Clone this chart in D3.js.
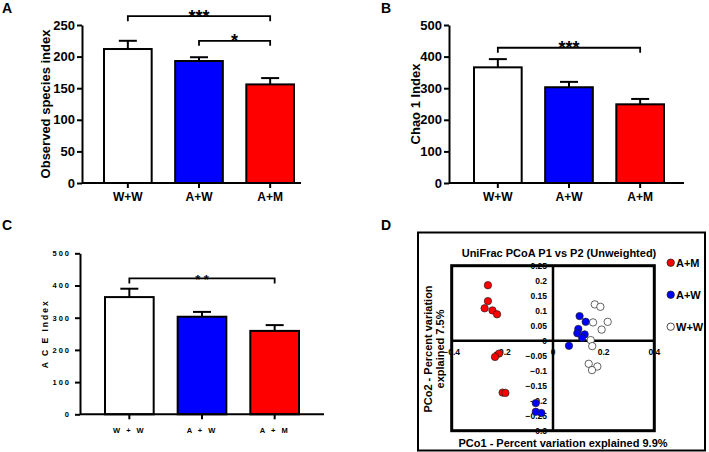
<!DOCTYPE html>
<html>
<head>
<meta charset="utf-8">
<script src="https://cdn.jsdelivr.net/npm/d3@7/dist/d3.min.js"></script>
<style>
  html, body { margin: 0; padding: 0; background: #fff; }
  svg { display: block; font-family: Arial, "Liberation Sans", sans-serif; }
</style>
</head>
<body>
<svg id="chart" width="709" height="452"></svg>
<script>
// ---------------- DATA ----------------
const categories = ["W+W", "A+W", "A+M"];
const categoriesSpaced = ["W + W", "A + W", "A + M"];
const barColors = ["#ffffff", "#0000ff", "#ff0000"];

const observedMean = [212, 193, 156];
const observedErr  = [13, 6, 10];
const observedTicks = [0, 50, 100, 150, 200, 250];

const chaoMean = [366, 303, 249];
const chaoErr  = [26, 17, 17];
const chaoTicks = [0, 100, 200, 300, 400, 500];

const aceMean = [364, 303, 259];
const aceErr  = [26, 15, 18];
const aceTicks = [0, 100, 200, 300, 400, 500];

// significance brackets: [fromIndex, toIndex, value level, label]
const sigA = [[0, 2, 264, "***"], [1, 2, 225, "*"]];
const sigB = [[0, 2, 428, "***"]];
const sigC = [[0, 2, 422, "* *"]];

// PCoA points
const amX = [-0.257, -0.257, -0.270, -0.239, -0.221, -0.213, -0.229, -0.199, -0.188];
const amY = [0.185, 0.132, 0.108, 0.101, 0.088, -0.043, -0.054, -0.173, -0.174];
const awX = [-0.068, -0.068, -0.046, 0.105, 0.129, 0.100, 0.096, 0.125, 0.115, 0.063];
const awY = [-0.208, -0.237, -0.241, 0.082, 0.063, 0.039, 0.025, 0.021, 0.010, -0.017];
const wwX = [0.165, 0.187, 0.158, 0.216, 0.192, 0.149, 0.155, 0.141, 0.175, 0.154];
const wwY = [0.121, 0.113, 0.061, 0.063, 0.037, 0.002, -0.018, -0.077, -0.086, -0.098];
const pcoaXTicks = [-0.4, -0.2, 0, 0.2, 0.4];
const pcoaYTicks = [0.25, 0.2, 0.15, 0.1, 0.05, 0, -0.05, -0.1, -0.15, -0.2, -0.25, -0.3];
const legendGroups = ["A+M", "A+W", "W+W"];
const legendColors = ["#ff0000", "#0000ff", "#ffffff"];

// ---------------- DRAW ----------------
const svg = d3.select("#chart");

function barPanel(o) {
  const g = svg.append("g");
  const y = d3.scaleLinear().domain([0, o.yMax]).range([o.yBottom, o.yTop]);
  const x = d3.scaleBand().domain(o.cats).range(o.bandRange).paddingInner(0.33).paddingOuter(0);

  g.selectAll("rect.bar").data(o.means).join("rect")
    .attr("x", (d, i) => x(o.cats[i]))
    .attr("y", d => y(d))
    .attr("width", x.bandwidth())
    .attr("height", d => y(0) - y(d))
    .attr("fill", (d, i) => barColors[i])
    .attr("stroke", "#000").attr("stroke-width", 2);

  const capW = 18;
  o.means.forEach((m, i) => {
    const cx = x(o.cats[i]) + x.bandwidth() / 2;
    g.append("line").attr("x1", cx).attr("x2", cx)
      .attr("y1", y(m)).attr("y2", y(m + o.errs[i]))
      .attr("stroke", "#000").attr("stroke-width", 2);
    g.append("line").attr("x1", cx - capW / 2).attr("x2", cx + capW / 2)
      .attr("y1", y(m + o.errs[i])).attr("y2", y(m + o.errs[i]))
      .attr("stroke", "#000").attr("stroke-width", 2);
  });

  const ya = g.append("g").attr("transform", `translate(${o.axisX},0)`)
    .call(d3.axisLeft(y).tickValues(o.ticks).tickSize(5).tickSizeOuter(0).tickPadding(o.yTickPad));
  ya.select(".domain").attr("stroke-width", 2);
  ya.selectAll(".tick line").attr("stroke-width", 2);
  ya.selectAll(".tick text").attr("font-size", o.tickFont).attr("font-weight", "bold")
    .attr("fill", "#000").attr("letter-spacing", o.ls || 0).attr("font-family", "Arial, 'Liberation Sans', sans-serif");

  g.append("line").attr("x1", o.axisX).attr("x2", o.axisEnd)
    .attr("y1", y(0)).attr("y2", y(0)).attr("stroke", "#000").attr("stroke-width", 2);
  const xa = g.append("g").attr("transform", `translate(0,${y(0)})`)
    .call(d3.axisBottom(x).tickSize(5).tickPadding(o.xTickPad).tickFormat((d, i) => o.labels[i]));
  xa.select(".domain").remove();
  xa.selectAll(".tick line").attr("stroke-width", 2);
  xa.selectAll(".tick text").attr("font-size", o.catFont).attr("font-weight", "bold")
    .attr("fill", "#000").attr("letter-spacing", o.ls || 0).attr("font-family", "Arial, 'Liberation Sans', sans-serif");

  g.append("text")
    .attr("transform", `translate(${o.yLabelX},${(y(0) + y(o.yMax)) / 2}) rotate(-90)`)
    .attr("text-anchor", "middle").attr("dominant-baseline", "central")
    .attr("font-size", o.yLabelFont).attr("font-weight", "bold")
    .attr("letter-spacing", o.ls || 0)
    .text(o.yLabel);

  o.sigs.forEach(s => {
    const x1 = x(o.cats[s[0]]) + x.bandwidth() / 2;
    const x2 = x(o.cats[s[1]]) + x.bandwidth() / 2;
    const yy = y(s[2]);
    g.append("path")
      .attr("d", `M${x1},${yy + 5}V${yy}H${x2}V${yy + 5}`)
      .attr("fill", "none").attr("stroke", "#000").attr("stroke-width", 1.8);
    g.append("text").attr("x", (x1 + x2) / 2).attr("y", yy + o.starDy)
      .attr("text-anchor", "middle").attr("font-size", o.starFont).attr("font-weight", "bold")
      .text(s[3]);
  });

  svg.append("text").attr("x", o.letterX).attr("y", o.letterY)
    .attr("font-size", 14).attr("font-weight", "bold").text(o.letter);
}

barPanel({
  cats: categories, labels: categories, means: observedMean, errs: observedErr,
  yMax: 250, ticks: observedTicks, yBottom: 183, yTop: 25,
  bandRange: [104, 294], axisX: 82, axisEnd: 301,
  tickFont: 13, catFont: 12, yTickPad: 2, xTickPad: 4,
  yLabel: "Observed species index", yLabelX: 45, yLabelFont: 13,
  sigs: sigA, starFont: 18, starDy: 6.5, letter: "A", letterX: 2, letterY: 13
});

barPanel({
  cats: categories, labels: categories, means: chaoMean, errs: chaoErr,
  yMax: 500, ticks: chaoTicks, yBottom: 183, yTop: 25,
  bandRange: [474, 664], axisX: 449, axisEnd: 684,
  tickFont: 13, catFont: 12, yTickPad: 2, xTickPad: 4,
  yLabel: "Chao 1 Index", yLabelX: 415, yLabelFont: 13,
  sigs: sigB, starFont: 18, starDy: 6.5, letter: "B", letterX: 381, letterY: 13
});

barPanel({
  cats: categories, labels: categoriesSpaced, means: aceMean, errs: aceErr,
  yMax: 500, ticks: aceTicks, yBottom: 414.3, yTop: 253.3,
  bandRange: [105, 299], axisX: 80, axisEnd: 324,
  tickFont: 7.5, catFont: 7.5, yTickPad: 4, xTickPad: 8, ls: 2,
  yLabel: "A C E Index", yLabelX: 45, yLabelFont: 8.5,
  sigs: sigC, starFont: 13, starDy: 6, letter: "C", letterX: 2, letterY: 230
});

// ---------------- PANEL D : PCoA ----------------
(function () {
  const g = svg.append("g");
  const x = d3.scaleLinear().domain([-0.4, 0.4]).range([451.7, 654.3]);
  const y = d3.scaleLinear().domain([-0.3, 0.25]).range([430.7, 265.7]);

  g.append("rect").attr("x", 418).attr("y", 232.5).attr("width", 287).attr("height", 218)
    .attr("fill", "none").attr("stroke", "#000").attr("stroke-width", 2);

  g.append("text").attr("x", 559).attr("y", 257).attr("text-anchor", "middle")
    .attr("font-size", 11).attr("font-weight", "bold").text("UniFrac PCoA P1 vs P2 (Unweighted)");

  g.selectAll("text.yt").data(pcoaYTicks).join("text")
    .attr("x", x(0) - 6).attr("y", d => y(d)).attr("text-anchor", "end")
    .attr("dominant-baseline", "central").attr("font-size", 8.5).attr("font-weight", "bold")
    .text(d => d3.format("")(d));
  g.selectAll("text.xt").data(pcoaXTicks).join("text")
    .attr("x", d => x(d)).attr("y", y(0) + 11).attr("text-anchor", "middle")
    .attr("dominant-baseline", "central").attr("font-size", 8.5).attr("font-weight", "bold")
    .text(d => d3.format("")(d));

  g.append("line").attr("x1", x(-0.4)).attr("x2", x(0.4)).attr("y1", y(0)).attr("y2", y(0))
    .attr("stroke", "#000").attr("stroke-width", 2.5);
  g.append("line").attr("x1", x(0)).attr("x2", x(0)).attr("y1", y(0.25)).attr("y2", y(-0.3))
    .attr("stroke", "#000").attr("stroke-width", 2.5);

  g.append("rect").attr("x", x(-0.4)).attr("y", y(0.25))
    .attr("width", x(0.4) - x(-0.4)).attr("height", y(-0.3) - y(0.25))
    .attr("fill", "none").attr("stroke", "#000").attr("stroke-width", 3);

  const groups = [[wwX, wwY, legendColors[2]], [awX, awY, legendColors[1]], [amX, amY, legendColors[0]]];
  groups.forEach(([xs, ys, c]) => {
    g.selectAll(null).data(xs).join("circle")
      .attr("cx", d => x(d)).attr("cy", (d, i) => y(ys[i])).attr("r", 3.7)
      .attr("fill", c).attr("stroke", "#222").attr("stroke-width", 0.7);
  });

  const ly = d3.scalePoint().domain(legendGroups).range([262.7, 326.7]);
  legendGroups.forEach((name, i) => {
    g.append("circle").attr("cx", 670.7).attr("cy", ly(name)).attr("r", 3.7)
      .attr("fill", legendColors[i]).attr("stroke", "#222").attr("stroke-width", 0.8);
    g.append("text").attr("x", 676).attr("y", ly(name)).attr("dominant-baseline", "central")
      .attr("font-size", 11).attr("font-weight", "bold").text(name);
  });

  g.append("text").attr("x", 563).attr("y", 443).attr("text-anchor", "middle")
    .attr("dominant-baseline", "central").attr("font-size", 11).attr("font-weight", "bold")
    .text("PCo1 - Percent variation explained 9.9%");
  const yl = g.append("text").attr("transform", "translate(434,349) rotate(-90)")
    .attr("text-anchor", "middle").attr("font-size", 11).attr("font-weight", "bold");
  yl.append("tspan").attr("x", 0).attr("dy", "-0.2em").text("PCo2 - Percent variation");
  yl.append("tspan").attr("x", 0).attr("dy", "1.1em").text("explained 7.5%");

  svg.append("text").attr("x", 381).attr("y", 230)
    .attr("font-size", 14).attr("font-weight", "bold").text("D");
})();
</script>
</body>
</html>
